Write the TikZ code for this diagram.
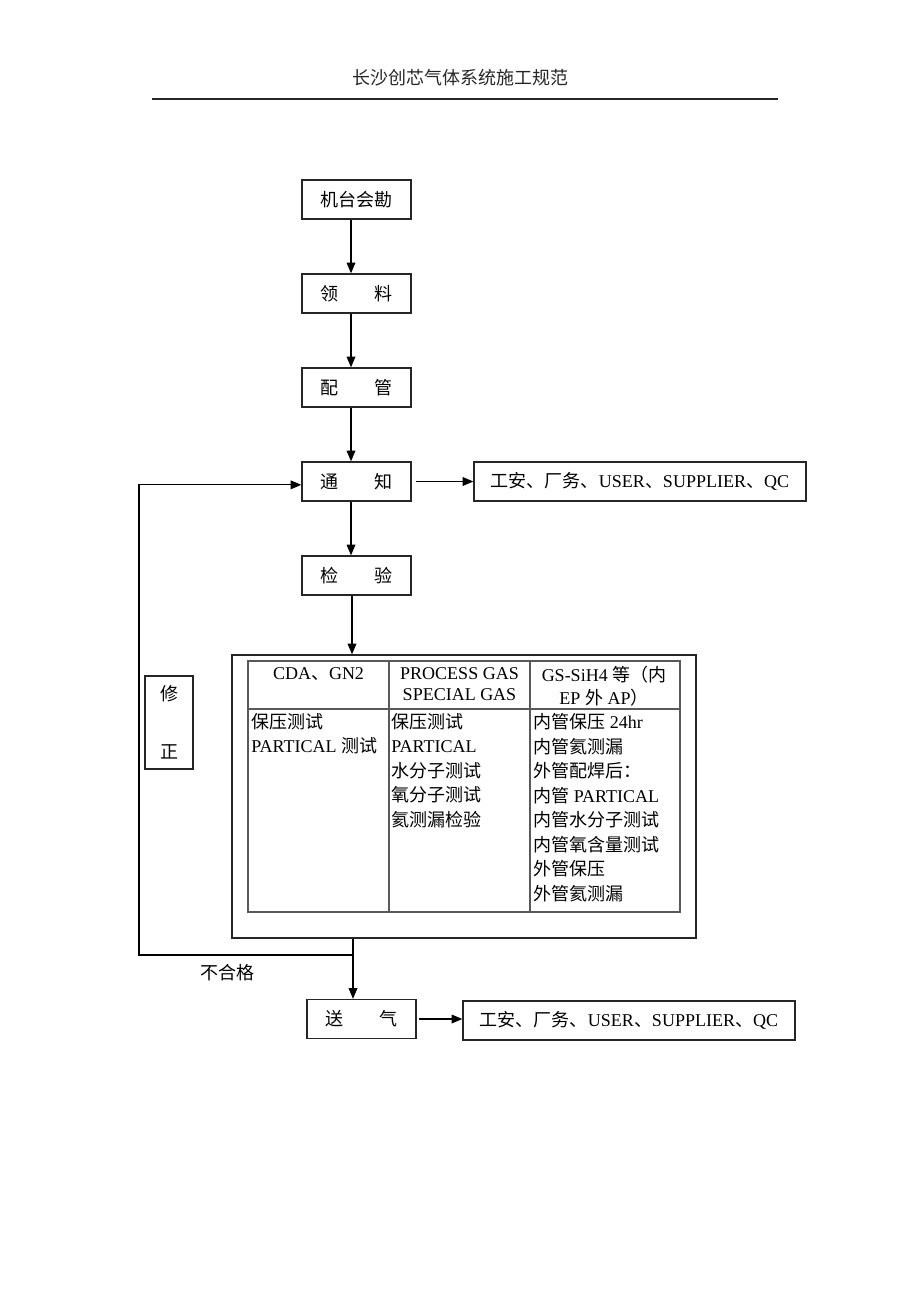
\documentclass[tikz,border=0pt]{standalone}
\usepackage{fontspec}
\setmainfont{Liberation Serif}
\newfontfamily\cjk{Noto Sans CJK SC}
\usetikzlibrary{arrows.meta}

\newcommand\zh[1]{{\cjk #1}}
\newcommand\spread[2]{\makebox[54.75pt]{\zh{#1}\hfill\zh{#2}}}

\tikzset{
    stepbox/.style={draw=black!85, line width=1pt, minimum width=81.75pt, minimum height=29.25pt, inner sep=0pt},
    notebox/.style={draw=black!85, line width=1pt, minimum width=249pt, minimum height=29.25pt, inner sep=0pt},
    flow/.style={-{Triangle[length=8pt,width=6.5pt]}, line width=0.9pt},
    tabline/.style={draw=black!65, line width=1.1pt},
    cell/.style={anchor=north west, align=left, inner sep=0pt}
}

\begin{document}
\begin{tikzpicture}[x=0.75pt, y=-0.75pt, font=\fontsize{13.5}{18.4}\selectfont]
    \useasboundingbox (0,0) rectangle (920,1302);

    % page header
    \node[text=black!85] (title) at (460,78) {\zh{长沙创芯气体系统施工规范}};
    \draw[black!85, line width=0.8pt] (152,99) -- (778,99);

    % main steps
    \node[stepbox] (kc) at (356.5,199.5) {\makebox[54.75pt][l]{\zh{机台会勘}}};
    \node[stepbox] (ll) at (356.5,293.5) {\spread{领}{料}};
    \node[stepbox] (pg) at (356.5,387.5) {\spread{配}{管}};
    \node[stepbox] (tz) at (356.5,481.5) {\spread{通}{知}};
    \node[stepbox] (jy) at (356.5,575.5) {\spread{检}{验}};

    \node[notebox] (tzq) at (640,481.5) {\zh{工安、厂务、}USER\zh{、}SUPPLIER\zh{、}QC};

    \coordinate (axis) at (351,0);
    \draw[flow] (kc.south -| axis) -- (ll.north -| axis);
    \draw[flow] (ll.south -| axis) -- (pg.north -| axis);
    \draw[flow] (pg.south -| axis) -- (tz.north -| axis);
    \draw[flow] (tz.south -| axis) -- (jy.north -| axis);
    \draw[flow, shorten <=3pt] (tz.east) -- (tzq.west);

    % inspection table
    \node[draw=black!85, line width=1pt, minimum width=348pt, minimum height=212.25pt, inner sep=0pt] (chk) at (464,796.5) {};
    \coordinate (jyb) at (352,0);
    \draw[flow] (jy.south -| jyb) -- (chk.north -| jyb);

    \draw[tabline] (248,661) rectangle (680,912);
    \draw[tabline] (248,709) -- (680,709);
    \draw[tabline] (389,661) -- (389,912);
    \draw[tabline] (530,661) -- (530,912);

    \node (h1) at (318.5,674) {CDA\zh{、}GN2};
    \node[align=center, font=\fontsize{13.5}{15.75}\selectfont] (h2) at (459.5,684) {PROCESS GAS\\SPECIAL GAS};
    \node[align=center, font=\fontsize{13.5}{17}\selectfont] (h3) at (604,686) {GS-SiH4 \zh{等（内}\\EP \zh{外} AP\zh{）}};

    \node[cell] (c1) at (251,713) {\zh{保压测试}\\PARTICAL \zh{测试}};
    \node[cell] (c2) at (391,713) {\zh{保压测试}\\PARTICAL\\\zh{水分子测试}\\\zh{氧分子测试}\\\zh{氦测漏检验}};
    \node[cell] (c3) at (533,713) {\zh{内管保压} 24hr\\\zh{内管氦测漏}\\\zh{外管配焊后：}\\\zh{内管} PARTICAL\\\zh{内管水分子测试}\\\zh{内管氧含量测试}\\\zh{外管保压}\\\zh{外管氦测漏}};

    % repair loop
    \node[draw=black!85, line width=1pt, minimum width=36pt, minimum height=69.75pt, inner sep=0pt, align=center] (xz) at (169,722.5) {\zh{修}\\[25pt]\zh{正}};

    \node[stepbox] (sq) at (361.5,1019) {\spread{送}{气}};
    \node[notebox] (sqq) at (629,1020.5) {\zh{工安、厂务、}USER\zh{、}SUPPLIER\zh{、}QC};

    \coordinate (fork) at (353,955);
    \coordinate (back) at (139,955);
    \draw[flow] (chk.south -| fork) -- (sq.north -| fork);
    \draw[flow] (fork) -- (back) |- ([yshift=-2.5]tz.west);
    \draw[flow, shorten <=2pt] (sq.east) -- (sq.east -| sqq.west);

    \node (bhg) at (227,973) {\zh{不合格}};
\end{tikzpicture}
\end{document}
